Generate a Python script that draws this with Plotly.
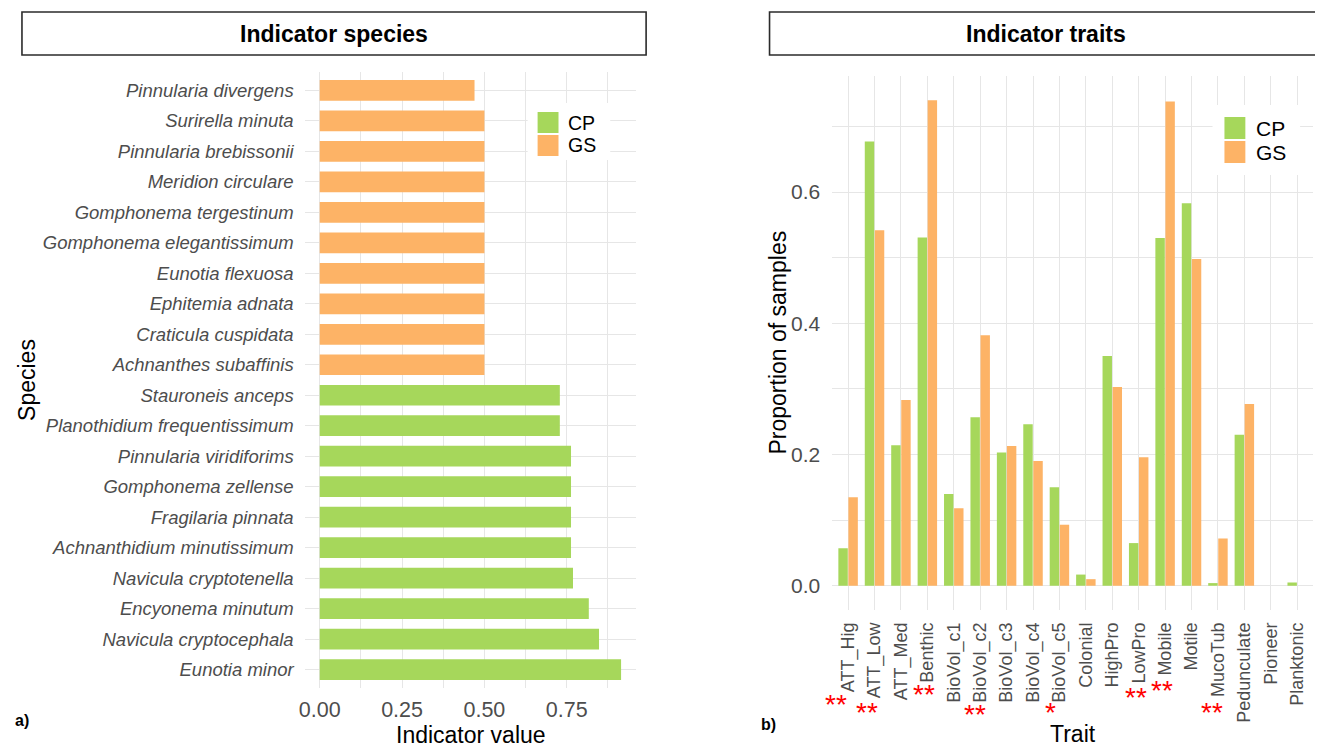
import plotly.graph_objects as go

# page body adds an 8px margin, so the figure is sized to fit the window
OFF = 8
W, H = 1323 - OFF, 748 - OFF

# ---------------- data ----------------
groups = ["CP", "GS"]
group_colors = {"CP": "#A6D75B", "GS": "#FDB366"}

# species ordered bottom -> top
species = [
    "Eunotia minor", "Navicula cryptocephala", "Encyonema minutum",
    "Navicula cryptotenella", "Achnanthidium minutissimum", "Fragilaria pinnata",
    "Gomphonema zellense", "Pinnularia viridiforims", "Planothidium frequentissimum",
    "Stauroneis anceps", "Achnanthes subaffinis", "Craticula cuspidata",
    "Ephitemia adnata", "Eunotia flexuosa", "Gomphonema elegantissimum",
    "Gomphonema tergestinum", "Meridion circulare", "Pinnularia brebissonii",
    "Surirella minuta", "Pinnularia divergens",
]
species_group = ["CP"] * 10 + ["GS"] * 10
indicator_value = [0.915, 0.848, 0.817, 0.769, 0.763, 0.763, 0.763, 0.763, 0.729, 0.729,
                   0.50, 0.50, 0.50, 0.50, 0.50, 0.50, 0.50, 0.50, 0.50, 0.47]

traits = ["ATT_Hig", "ATT_Low", "ATT_Med", "Benthic", "BioVol_c1", "BioVol_c2",
          "BioVol_c3", "BioVol_c4", "BioVol_c5", "Colonial", "HighPro", "LowPro",
          "Mobile", "Motile", "MucoTub", "Pedunculate", "Pioneer", "Planktonic"]
prop_cp = [0.057, 0.677, 0.214, 0.531, 0.140, 0.257, 0.203, 0.246, 0.150, 0.017,
           0.350, 0.065, 0.530, 0.583, 0.004, 0.230, 0.000, 0.005]
prop_gs = [0.135, 0.542, 0.283, 0.740, 0.118, 0.382, 0.213, 0.190, 0.093, 0.010,
           0.303, 0.196, 0.738, 0.498, 0.072, 0.277, 0.000, 0.000]
signif = ["**", "**", "", "**", "", "**", "", "", "*", "",
          "", "**", "**", "", "**", "", "", ""]

x_ticks_a = [0.00, 0.25, 0.50, 0.75]
y_ticks_b = [0.0, 0.2, 0.4, 0.6]

# ---------------- helpers (window pixel -> paper) ----------------
def px(x):
    return (x - OFF) / W

def py(y):
    return 1 - (y - OFF) / H

FONT = "Liberation Sans, Arial, Helvetica, sans-serif"
GRID = "#E6E6E6"
TICKC = "#4D4D4D"

fig = go.Figure()

# ---- panel a: indicator species ----
for g in groups:
    ys = [s for s, gg in zip(species, species_group) if gg == g]
    xs = [v for v, gg in zip(indicator_value, species_group) if gg == g]
    fig.add_trace(go.Bar(
        x=xs, y=ys, orientation="h", name=g,
        marker=dict(color=group_colors[g], line=dict(width=0)),
        width=0.68, offset=-0.34, xaxis="x", yaxis="y", showlegend=False,
    ))

# ---- panel b: indicator traits ----
for g, vals in zip(groups, [prop_cp, prop_gs]):
    fig.add_trace(go.Bar(
        x=traits, y=vals, name=g,
        marker=dict(color=group_colors[g], line=dict(width=0)),
        xaxis="x2", yaxis="y2", showlegend=False,
    ))

xa_max = max(indicator_value)
yb_max = max(max(prop_cp), max(prop_gs))

fig.update_layout(
    width=W, height=H,
    margin=dict(l=0, r=0, t=0, b=0),
    paper_bgcolor="white", plot_bgcolor="white",
    barmode="group", bargap=0.24, bargroupgap=0.06,
    font=dict(family=FONT, color="black"),
    xaxis=dict(
        domain=[px(300), px(633)], anchor="y",
        range=[-0.05 * xa_max, 1.05 * xa_max],
        tickvals=x_ticks_a, tickformat=".2f",
        tickfont=dict(size=21.5, color=TICKC, family=FONT),
        showgrid=True, gridcolor=GRID, gridwidth=1.4,
        minor=dict(dtick=0.125, tick0=0, showgrid=True, gridcolor=GRID, gridwidth=1.1),
        zeroline=False, showline=False, ticks="", ticklabelstandoff=6,
    ),
    yaxis=dict(
        domain=[py(688), py(72)], anchor="x",
        type="category", categoryorder="array", categoryarray=species,
        range=[-0.6, len(species) - 0.4],
        tickfont=dict(size=18.5, color=TICKC, family=FONT, style="italic"),
        showgrid=True, gridcolor=GRID, gridwidth=1.4,
        zeroline=False, showline=False, ticks="", ticklabelstandoff=10,
    ),
    xaxis2=dict(
        domain=[px(830), px(1313)], anchor="y2",
        type="category", categoryorder="array", categoryarray=traits,
        range=[-0.6, len(traits) - 0.4],
        tickangle=-90,
        tickfont=dict(size=18, color=TICKC, family=FONT),
        showgrid=True, gridcolor=GRID, gridwidth=1.4,
        zeroline=False, showline=False, ticks="", ticklabelstandoff=8,
    ),
    yaxis2=dict(
        domain=[py(610), py(76)], anchor="x2",
        range=[-0.05 * yb_max, 1.05 * yb_max],
        tickvals=y_ticks_b, tickformat=".1f",
        tickfont=dict(size=21, color=TICKC, family=FONT),
        showgrid=True, gridcolor=GRID, gridwidth=1.4,
        minor=dict(dtick=0.1, tick0=0, showgrid=True, gridcolor=GRID, gridwidth=1.1),
        zeroline=False, showline=False, ticks="", ticklabelstandoff=11,
    ),
)

shapes = []
annotations = []

# title boxes
for (x0, x1, title) in [(16, 643, "Indicator species"), (767, 1322, "Indicator traits")]:
    shapes.append(dict(type="rect", xref="paper", yref="paper",
                       x0=px(x0), x1=px(x1), y0=py(55), y1=py(12),
                       line=dict(color="#2b2b2b", width=1.6), fillcolor="white", layer="above"))
    annotations.append(dict(text="<b>" + title + "</b>", xref="paper", yref="paper",
                            x=px((x0 + x1) / 2), y=py(34), xanchor="center", yanchor="middle",
                            showarrow=False, font=dict(size=23, color="black", family=FONT)))

# panel letters
annotations.append(dict(text="<b>a)</b>", xref="paper", yref="paper", x=px(16), y=py(720),
                        xanchor="center", yanchor="middle", showarrow=False,
                        font=dict(size=16, color="black", family=FONT)))
annotations.append(dict(text="<b>b)</b>", xref="paper", yref="paper", x=px(766), y=py(724),
                        xanchor="center", yanchor="middle", showarrow=False,
                        font=dict(size=16, color="black", family=FONT)))

# axis titles
annotations += [
    dict(text="Indicator value", xref="paper", yref="paper", x=px(467), y=py(735),
         xanchor="center", yanchor="middle", showarrow=False, font=dict(size=23)),
    dict(text="Species", xref="paper", yref="paper", x=px(21), y=py(380), textangle=-90,
         xanchor="center", yanchor="middle", showarrow=False, font=dict(size=23)),
    dict(text="Proportion of samples", xref="paper", yref="paper", x=px(775), y=py(343),
         textangle=-90, xanchor="center", yanchor="middle", showarrow=False, font=dict(size=23)),
    dict(text="Trait", xref="paper", yref="paper", x=px(1072), y=py(734),
         xanchor="center", yanchor="middle", showarrow=False, font=dict(size=23)),
]

# legends (drawn as keys + labels)
def add_legend(bg, keys_x, key_y0, key_h, text_x, fsize):
    shapes.append(dict(type="rect", xref="paper", yref="paper",
                       x0=px(bg[0]), x1=px(bg[1]), y0=py(bg[3]), y1=py(bg[2]),
                       line=dict(width=0), fillcolor="white", layer="above"))
    for i, g in enumerate(groups):
        y0 = key_y0 + i * (key_h + 2)
        shapes.append(dict(type="rect", xref="paper", yref="paper",
                           x0=px(keys_x[0]), x1=px(keys_x[1]), y0=py(y0 + key_h), y1=py(y0),
                           line=dict(width=0), fillcolor=group_colors[g], layer="above"))
        annotations.append(dict(text=g, xref="paper", yref="paper", x=px(text_x),
                                y=py(y0 + key_h / 2), xanchor="left", yanchor="middle",
                                showarrow=False, font=dict(size=fsize, color="black")))

add_legend((524, 607, 103, 160), (534, 555), 112, 21, 563, 19.5)
add_legend((1212, 1300, 105, 175), (1224, 1245), 117, 22, 1254, 21)

# significance asterisks under trait labels
star_xshift = {"ATT_Hig": -12, "ATT_Low": -8, "Benthic": -3, "BioVol_c2": -5,
               "BioVol_c5": -9, "LowPro": -3, "Mobile": -3, "MucoTub": -6}
star_y = {"ATT_Hig": 703, "ATT_Low": 711, "Benthic": 693, "BioVol_c2": 713,
          "BioVol_c5": 711, "LowPro": 696, "Mobile": 689, "MucoTub": 711}
for t, s in zip(traits, signif):
    if s:
        annotations.append(dict(text=s, xref="x2", yref="paper", x=t,
                                xshift=star_xshift[t], y=py(star_y[t] + 1),
                                xanchor="center", yanchor="middle", showarrow=False,
                                font=dict(size=28, color="#FF0000", family=FONT)))

fig.update_layout(shapes=shapes, annotations=annotations)
fig.write_html("out.html")
